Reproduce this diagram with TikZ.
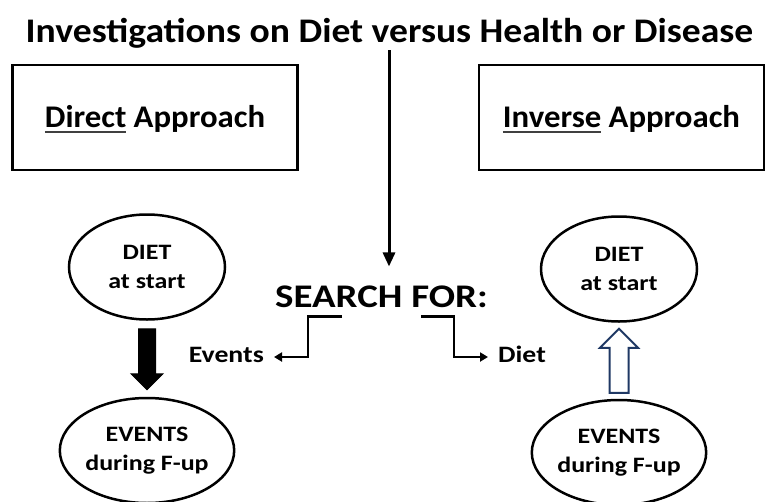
\documentclass[tikz,border=0pt]{standalone}
\usepackage{fontspec}
\setmainfont{Carlito}
\newfontfamily\titleface[FakeStretch=1.09]{Carlito}
\newfontfamily\boxface[FakeStretch=1.04]{Carlito}
\newfontfamily\wideface[FakeStretch=1.18]{Carlito}
\usepackage{tikz}
\usetikzlibrary{shapes.geometric, arrows.meta, positioning, calc}
\definecolor{arrownavy}{RGB}{31, 56, 100}
\newcommand{\undr}[1]{\setbox0\hbox{#1}\rlap{\color{black!75}\rule[-5pt]{\wd0}{2pt}}\box0\relax}
\tikzset{
    title/.style={font=\titleface\bfseries\fontsize{34.5}{40}\selectfont, inner sep=0pt},
    approach/.style={rectangle, draw, line width=2.5pt, minimum width=285pt, minimum height=105pt, text height=20pt, text depth=0pt, font=\boxface\bfseries\fontsize{31.5}{36}\selectfont},
    oval/.style={ellipse, draw, line width=2.5pt, minimum width=156pt, minimum height=105pt, inner sep=0pt, align=center, font=\wideface\bfseries\fontsize{22}{29}\selectfont},
    side/.style={inner ysep=0pt, inner xsep=10pt, text depth=5pt, font=\wideface\bfseries\fontsize{23.5}{28}\selectfont},
    stem/.style={draw, line width=3pt, -{Triangle[width=12pt,length=14pt]}},
    elbow/.style={draw, line width=2.5pt, -{Triangle[width=9pt,length=8pt]}},
    fatarrow/.style={fill=black, draw=black, line width=1pt, line join=miter},
    hollowarrow/.style={fill=white, draw=arrownavy, line width=2pt, line join=miter}
}
\begin{document}
\begin{tikzpicture}[x=1pt, y=-1pt]
    \useasboundingbox (0,0) rectangle (766,501);

    \node[title, anchor=base] (head) at (389.5,42) {Investigations on Diet versus Health or Disease};
    \coordinate (top) at (389,50);

    \node[approach] (direct) at (155,117.5) {\undr{Direct} Approach};
    \node[approach] (inverse) at (621.5,117.5) {\undr{Inverse} Approach};

    \node[oval] (ldiet) at (147,267) {DIET\\at start};
    \node[oval, below=76pt of ldiet] (levents) {EVENTS\\during F-up};
    \node[oval] (rdiet) at (619,269) {DIET\\at start};
    \node[oval, below=76pt of rdiet] (revents) {EVENTS\\during F-up};

    \node[font=\wideface\bfseries\fontsize{33}{38}\selectfont, inner sep=9pt, text depth=0pt] (search) at (381.5,296.5) {SEARCH FOR:};
    \node[side, anchor=east] (events) at (274,357) {Events};
    \node[side, anchor=west] (diet) at (488,357) {Diet};

    \draw[stem, shorten >=10pt] (top) -- (top |- search.north);
    \draw[elbow] ($(search.south)+(-39.5,0)$) -- ++(-34,0) |- (events.east);
    \draw[elbow] ($(search.south)+(39.5,0)$) -- ++(33,0) |- (diet.west);

    % block arrows between the ovals
    \draw[fatarrow] ($(ldiet.south)+(-8.5,8)$) -- ($(ldiet.south)+(8.5,8)$) -- ($(ldiet.south)+(8.5,53)$)
        -- ($(ldiet.south)+(16,53)$) -- ($(ldiet.south)+(0,69)$) -- ($(ldiet.south)+(-16,53)$)
        -- ($(ldiet.south)+(-8.5,53)$) -- cycle;
    \draw[hollowarrow] ($(revents.north)+(-9.5,-6)$) -- ($(revents.north)+(9.5,-6)$) -- ($(revents.north)+(9.5,-51)$)
        -- ($(revents.north)+(19,-51)$) -- ($(revents.north)+(0,-70)$) -- ($(revents.north)+(-19,-51)$)
        -- ($(revents.north)+(-9.5,-51)$) -- cycle;
\end{tikzpicture}
\end{document}
